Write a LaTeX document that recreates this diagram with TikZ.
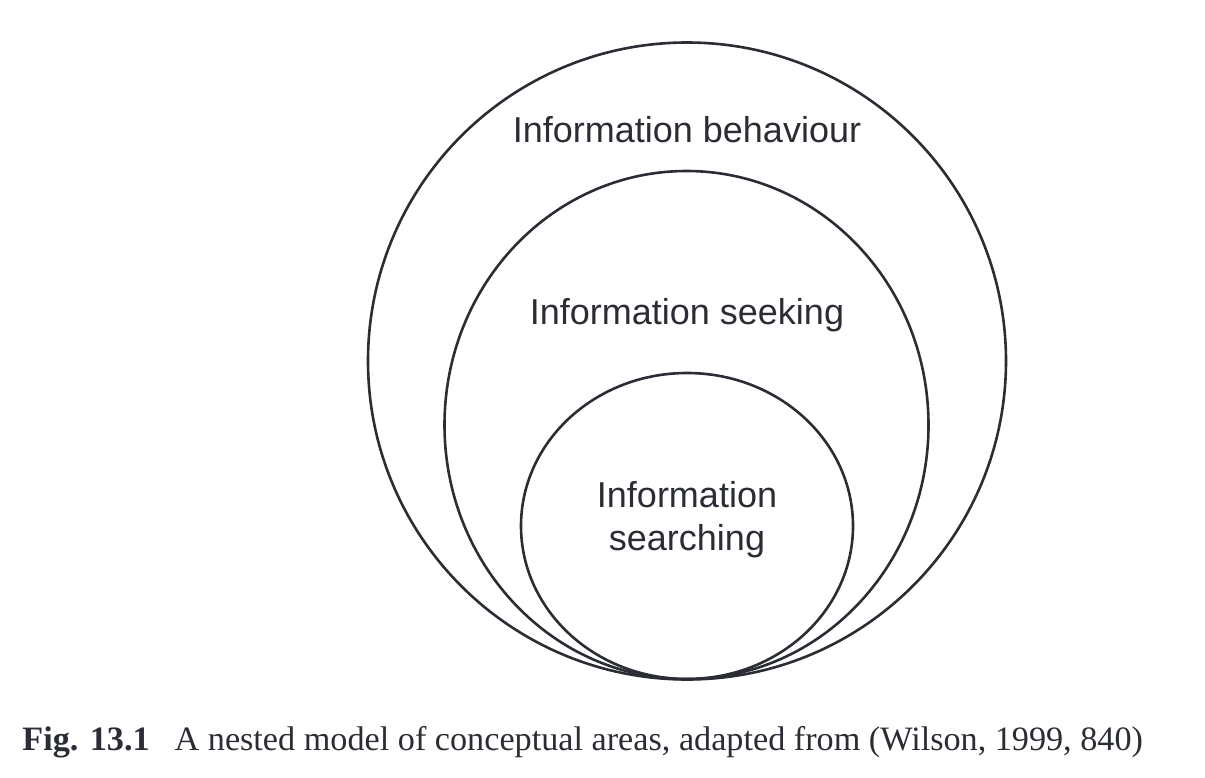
\documentclass[tikz,border=0pt]{standalone}
\usepackage{fontspec}
\setmainfont{Liberation Serif}
\setsansfont{Liberation Sans}
\usepackage{tikz}
\usetikzlibrary{shapes.geometric,positioning}
\definecolor{ink}{HTML}{2A2D33}

\begin{document}
\begin{tikzpicture}[x=0.5pt,y=-0.5pt,
  ring/.style={draw=ink, line width=1.3pt, ellipse, inner sep=0pt, outer sep=0pt},
  area/.style={text=ink, font=\sffamily\fontsize{18}{17.5}\selectfont, align=center, anchor=base}]
  \useasboundingbox (0,0) rectangle (1205,777);
  \node[ring, minimum width=319pt, minimum height=318.5pt] (behaviour) at (687,361) {};
  \node[ring, minimum width=242pt, minimum height=254pt] (seeking) at (686.5,425) {};
  \node[ring, minimum width=166pt, minimum height=153pt] (searching) at (687,526) {};
  \node[area] (lbehaviour) at (687,142) {Information behaviour};
  \node[area] (lseeking) at (687,324) {Information seeking};
  \node[area] (lsearching1) at (687,507) {Information};
  \node[area] (lsearching2) at (687,550) {searching};
  \node[anchor=base west, inner sep=0pt, text=ink, font=\fontsize{17.1}{20}\selectfont] (caption) at (22,750)
    {\textbf{Fig. 13.1}\hspace{12.5pt}A nested model of conceptual areas, adapted from (Wilson, 1999, 840)};
\end{tikzpicture}
\end{document}
